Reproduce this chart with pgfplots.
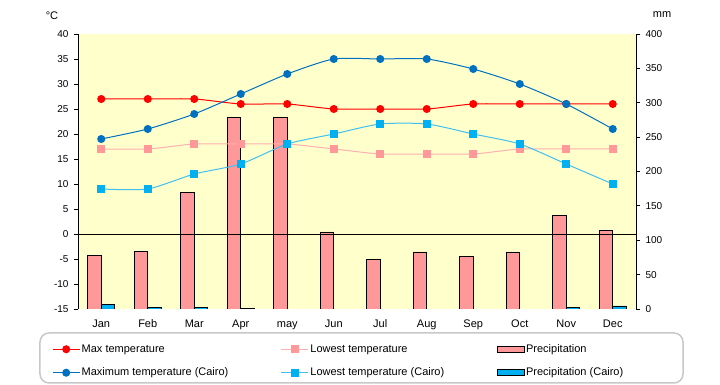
\documentclass[border=0pt]{standalone}
\usepackage{fontspec}
\setmainfont{Liberation Sans}
\usepackage{pgfplots}
\pgfplotsset{compat=1.18}
\definecolor{bgy}{HTML}{FFFFCC}
\definecolor{pinkbar}{HTML}{FF9999}
\definecolor{pinkline}{HTML}{FFB0B0}
\definecolor{cairomax}{HTML}{0070C0}
\definecolor{cairolow}{HTML}{00B0F0}
\definecolor{cairolowline}{HTML}{40C0F0}
\definecolor{legframe}{HTML}{C8C8C8}
\newcommand\tf{\fontsize{10}{12}\selectfont}
\newcommand\lf{\fontsize{11}{13}\selectfont}
\pgfplotsset{
  lineleg/.style={legend image code/.code={\draw[mark repeat=2,mark phase=2,##1] plot coordinates {(0pt,0pt) (13.5pt,0pt) (27pt,0pt)};}},
  barleg/.style={legend image code/.code={\draw[##1] (0pt,-3pt) rectangle (27pt,3pt);}},
}
\begin{document}
\begin{tikzpicture}
\useasboundingbox (-78pt,-76pt) rectangle (642pt,309pt);
% precipitation axis (back)
\begin{axis}[
  at={(0pt,0pt)}, anchor=south west,
  scale only axis, width=558pt, height=275pt,
  xmin=-0.5, xmax=11.5, ymin=0, ymax=400,
  axis y line*=right, axis x line*=bottom,
  x axis line style={draw=none},
  y axis line style={black, line width=0.8pt},
  axis background/.style={fill=bgy},
  xtick={0,...,11},
  xticklabels={Jan,Feb,Mar,Apr,may,Jun,Jul,Aug,Sep,Oct,Nov,Dec},
  x tick style={draw=none},
  xticklabel style={font=\lf, text height=8pt, text depth=2.5pt, anchor=north, yshift=-3pt},
  ytick={0,50,...,400},
  yticklabel style={font=\tf, xshift=2pt},
  tick align=outside, major tick length=4pt,
  y tick style={black, line width=0.8pt},
  /pgf/number format/assume math mode=true,
]
\addplot[ybar, bar width=13.5pt, bar shift=-6.75pt, fill=pinkbar, draw=black, line width=0.8pt]
  coordinates {(0,78) (1,84) (2,170) (3,278) (4,279) (5,112) (6,72) (7,83) (8,77) (9,83) (10,136) (11,114)};
\addplot[ybar, bar width=13.5pt, bar shift=6.75pt, fill=cairolow, draw=black, line width=0.8pt]
  coordinates {(0,6.5) (1,2.5) (2,2.5) (3,0.8) (10,2.5) (11,4.5)};
\end{axis}
% temperature axis (front)
\begin{axis}[
  at={(0pt,0pt)}, anchor=south west,
  scale only axis, width=558pt, height=275pt,
  xmin=-0.5, xmax=11.5, ymin=-15, ymax=40,
  axis y line*=left, axis x line=none,
  y axis line style={black, line width=0.8pt},
  ytick={-15,-10,...,40},
  yticklabel style={font=\tf, xshift=-2pt},
  tick align=outside, major tick length=4pt,
  y tick style={black, line width=0.8pt},
  extra y ticks={0}, extra y tick labels={},
  extra y tick style={grid=major, major grid style={black, line width=0.8pt}},
  /pgf/number format/assume math mode=true,
  legend columns=3,
  legend cell align=left,
  legend style={at={(rel axis cs:-0.0466,-0.123)}, anchor=north west,
    draw=none, fill=none, inner sep=0pt, font=\lf,
    nodes={inner sep=1.5pt},
    /tikz/every even column/.append style={column sep=51pt},
    row sep=11pt},
]
\addplot[red, line width=1pt, mark=*, mark size=3.5pt, smooth, tension=0.4, forget plot]
  coordinates {(0,27) (1,27) (2,27) (3,26) (4,26) (5,25) (6,25) (7,25) (8,26) (9,26) (10,26) (11,26)};
\addplot[pinkline, line width=1pt, mark=square*, mark size=3.3pt, mark options={fill=pinkbar, draw=pinkbar}, smooth, tension=0.4, forget plot]
  coordinates {(0,17) (1,17) (2,18) (3,18) (4,18) (5,17) (6,16) (7,16) (8,16) (9,17) (10,17) (11,17)};
\addplot[cairomax, line width=1pt, mark=*, mark size=3.5pt, smooth, tension=0.4, forget plot]
  coordinates {(0,19) (1,21) (2,24) (3,28) (4,32) (5,35) (6,35) (7,35) (8,33) (9,30) (10,26) (11,21)};
\addplot[cairolowline, line width=1pt, mark=square*, mark size=3.3pt, mark options={fill=cairolow, draw=cairolow}, smooth, tension=0.4, forget plot]
  coordinates {(0,9) (1,9) (2,12) (3,14) (4,18) (5,20) (6,22) (7,22) (8,20) (9,18) (10,14) (11,10)};
\addlegendimage{lineleg, red, line width=1pt, mark=*, mark size=3.5pt}
\addlegendentry{Max temperature}
\addlegendimage{lineleg, pinkline, line width=1pt, mark=square*, mark size=3.3pt, mark options={fill=pinkbar, draw=pinkbar}}
\addlegendentry{Lowest temperature}
\addlegendimage{barleg, fill=pinkbar, draw=black, line width=0.8pt}
\addlegendentry{Precipitation}
\addlegendimage{lineleg, cairomax, line width=1pt, mark=*, mark size=3.5pt}
\addlegendentry{Maximum temperature (Cairo)}
\addlegendimage{lineleg, cairolowline, line width=1pt, mark=square*, mark size=3.3pt, mark options={fill=cairolow, draw=cairolow}}
\addlegendentry{Lowest temperature (Cairo)}
\addlegendimage{barleg, fill=cairolow, draw=black, line width=0.8pt}
\addlegendentry{Precipitation (Cairo)}
\end{axis}
\draw[legframe, line width=1.5pt, rounded corners=9pt] (-38pt,-24pt) rectangle (605pt,-74pt);
\node[font=\lf] at (-26pt,293pt) {°C};
\node[font=\lf] at (584pt,294pt) {mm};
\end{tikzpicture}
\end{document}
